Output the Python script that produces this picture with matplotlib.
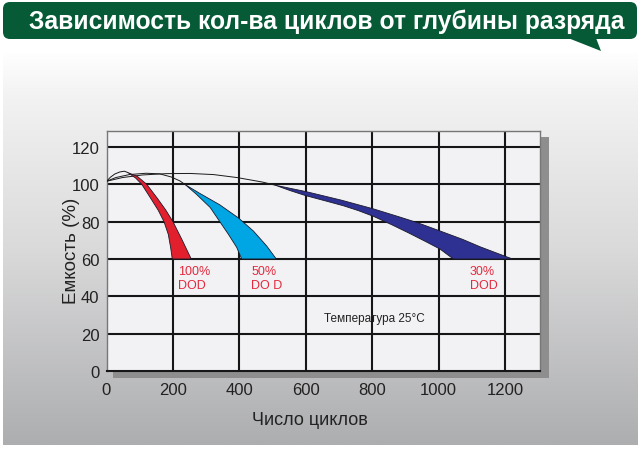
import numpy as np
import matplotlib
matplotlib.use("Agg")
import matplotlib.pyplot as plt
from matplotlib.patches import FancyBboxPatch, Rectangle, Polygon
from matplotlib.colors import LinearSegmentedColormap

plt.rcParams['font.family'] = ['Liberation Sans', 'DejaVu Sans']

# ---------------- text ----------------
title = "Зависимость кол-ва циклов от глубины разряда"
x_label = "Число циклов"
y_label = "Емкость (%)"
note = "Температура 25°C"
x_ticks = [0, 200, 400, 600, 800, 1000, 1200]
y_ticks = [0, 20, 40, 60, 80, 100, 120]
dod_labels = ["100%\nDOD", "50%\nDO D", "30%\nDOD"]

# ---------------- data (cycles, capacity %) ----------------
# 100% DOD
red_rise_x = [0, 12, 25, 40, 54, 64]
red_rise_y = [101.6, 103.8, 105.5, 106.6, 107.0, 106.3]
red_left_x = [64, 88, 106, 133, 156, 173, 186, 193, 198]
red_left_y = [106.3, 103.3, 100.0, 92.5, 86.0, 80.0, 73.2, 66.2, 60.0]
red_right_x = [64, 93, 121, 153, 178, 200, 229, 255]
red_right_y = [106.3, 104.2, 100.0, 92.5, 86.3, 80.0, 69.7, 60.0]

# 50% DOD
cyan_rise_x = [0, 28, 69, 119, 160, 195, 221, 237]
cyan_rise_y = [101.6, 103.6, 105.2, 105.9, 105.6, 103.9, 101.8, 99.8]
cyan_left_x = [237, 271, 312, 341, 367, 392, 407]
cyan_left_y = [99.8, 94.6, 87.6, 80.0, 73.2, 66.2, 60.0]
cyan_right_x = [237, 281, 341, 397, 442, 482, 511]
cyan_right_y = [99.8, 95.1, 89.0, 82.0, 75.0, 67.0, 60.0]

# 30% DOD
navy_rise_x = [0, 48, 109, 180, 251, 322, 393, 469, 508]
navy_rise_y = [101.6, 103.6, 105.0, 105.7, 105.8, 105.2, 103.6, 101.2, 99.5]
navy_upper_x = [508, 600, 707, 804, 884, 935, 1004, 1072, 1125, 1174, 1222]
navy_upper_y = [99.5, 96.1, 91.5, 86.8, 82.4, 79.5, 75.0, 70.5, 66.5, 63.2, 60.0]
navy_lower_x = [508, 553, 600, 657, 713, 758, 804, 859, 910, 961, 1004, 1044]
navy_lower_y = [99.5, 96.6, 93.9, 91.2, 88.5, 85.9, 82.8, 78.3, 73.9, 69.3, 65.3, 60.0]

# ---------------- styles ----------------
W, H = 641, 452
C_RED, C_CYAN, C_NAVY = "#e21f2d", "#00a5e3", "#2e3192"
C_LABEL = "#e3293d"
C_GREEN = "#065a36"

fig = plt.figure(figsize=(W / 100, H / 100), dpi=100)

# background (pixel coordinates)
bg = fig.add_axes([0, 0, 1, 1])
bg.axis("off")
grad_cmap = LinearSegmentedColormap.from_list(
    "g", [(0.0, "#ffffff"), (0.12, "#f2f2f3"), (0.5, "#dadadb"), (1.0, "#adaeb0")])
grad = np.linspace(0, 1, 256).reshape(-1, 1)
bg.imshow(grad, cmap=grad_cmap, extent=[3, 638, 446, 52], aspect="auto", zorder=0)
bg.set_xlim(0, W)
bg.set_ylim(H, 0)

# banner
bg.add_patch(FancyBboxPatch((3, 3), 634, 37, boxstyle="round,pad=0,rounding_size=7",
                            facecolor=C_GREEN, edgecolor="none", zorder=2))
bg.add_patch(Polygon([(568, 39), (601, 52), (596, 39)], closed=True,
                     facecolor=C_GREEN, edgecolor="none", zorder=2))
bg.text(29, 22, title, color="white", fontsize=17.7, fontweight="bold",
        ha="left", va="center", zorder=3)

# plot shadow
bg.add_patch(Rectangle((113, 138), 436, 241, facecolor="#8e8e8e", edgecolor="none", zorder=1))

# axis labels
bg.text(310, 421, x_label, fontsize=13, ha="center", va="center", color="#222222")
bg.text(71, 251, y_label, fontsize=13.5, ha="center", va="center", rotation=90, color="#222222")

# ---------------- plot ----------------
left_px, right_px, top_px, bottom_px = 106.5, 540, 131.5, 372
ax = fig.add_axes([left_px / W, 1 - bottom_px / H, (right_px - left_px) / W, (bottom_px - top_px) / H])
ax.set_facecolor("#f2f2f4")
ax.set_xlim(0, 1305)
ax.set_ylim(0, 128.8)

for v in x_ticks[1:]:
    ax.axvline(v, color="#161616", lw=1.5, zorder=1)
for v in y_ticks[1:]:
    ax.axhline(v, color="#161616", lw=1.5, zorder=1)

for s in ["top", "right", "left"]:
    ax.spines[s].set_color("#777777")
    ax.spines[s].set_linewidth(1.0)
ax.spines["bottom"].set_color("#161616")
ax.spines["bottom"].set_linewidth(1.5)

ax.set_xticks(x_ticks)
ax.set_yticks(y_ticks)
ax.tick_params(length=0, labelsize=12, colors="#222222")
ax.tick_params(axis="x", pad=8)
ax.tick_params(axis="y", pad=5)


def band(rise_x, rise_y, lx, ly, rx, ry, color):
    ax.plot(rise_x, rise_y, color="#1a1a1a", lw=0.7, zorder=3)
    xs = list(lx) + list(rx)[::-1]
    ys = list(ly) + list(ry)[::-1]
    ax.add_patch(Polygon(np.column_stack([xs, ys]), closed=True, facecolor=color,
                         edgecolor="#1a1a2a", lw=0.6, zorder=4, joinstyle="round"))


band(red_rise_x, red_rise_y, red_left_x, red_left_y, red_right_x, red_right_y, C_RED)
band(cyan_rise_x, cyan_rise_y, cyan_left_x, cyan_left_y, cyan_right_x, cyan_right_y, C_CYAN)
band(navy_rise_x, navy_rise_y, navy_upper_x, navy_upper_y, navy_lower_x, navy_lower_y, C_NAVY)

label_x = [215, 436, 1094]
for lab, lx in zip(dod_labels, label_x):
    ax.text(lx, 57, lab, color=C_LABEL, fontsize=9, ha="left", va="top",
            linespacing=1.3, zorder=5)

ax.text(655, 28.3, note, fontsize=8.5, ha="left", va="center", color="#222222", zorder=5)

fig.savefig("out.png", dpi=100)
